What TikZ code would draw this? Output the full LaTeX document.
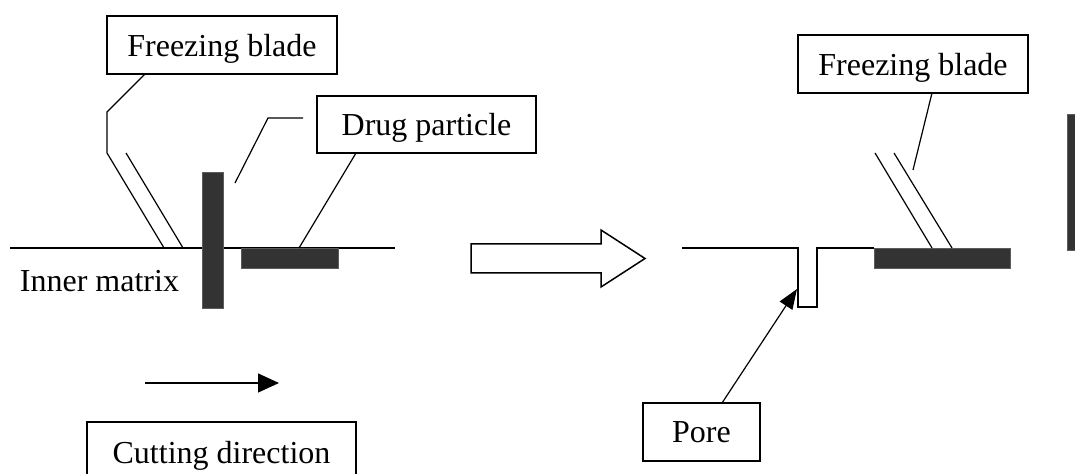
\documentclass[tikz,border=0pt]{standalone}
\usepackage{fontspec}
\setmainfont{Liberation Serif}
\usetikzlibrary{arrows.meta}
\definecolor{bar}{HTML}{333333}
\begin{document}
\begin{tikzpicture}[x=0.5pt,y=-0.5pt,
  lbl/.style={draw, line width=0.75pt, inner sep=0pt, text depth=0pt,
    font=\fontsize{16}{19}\selectfont},
  plain/.style={inner sep=0pt, text depth=0pt, font=\fontsize{16}{19}\selectfont},
  thinline/.style={line width=0.6pt},
  darkbar/.style={fill=bar, draw=bar!80, line width=0.4pt}]
\useasboundingbox (0,0) rectangle (1075,474);
\clip (0,0) rectangle (1075,474);

% ---------- left: labels ----------
\node[lbl, minimum width=115pt, minimum height=29pt] (fb1) at (222,45) {Freezing blade};
\node[lbl, minimum width=109.5pt, minimum height=28.5pt] (dp) at (426.5,124.5) {Drug particle};
\node[plain] (im) at (99.5,280.5) {Inner matrix};
\node[lbl, minimum width=134.5pt, minimum height=30pt] (cd) at (221.5,452) {Cutting direction};

% surface
\draw[thinline] (10,248) -- (395,248);

% blade (left)
\coordinate (fb1a) at (145,74);
\coordinate (fb1b) at (107,112);
\coordinate (bl1t) at (107,153);
\coordinate (bl1b) at (164,248);
\coordinate (bl2t) at (126,153);
\coordinate (bl2b) at (183,248);
\draw[thinline] (fb1a) -- (fb1b) -- (bl1t) -- (bl1b);
\draw[thinline] (bl2t) -- (bl2b);

% dark bars (left)
\draw[darkbar] (202,172) rectangle (223,308);
\draw[darkbar] (241,248) rectangle (338,268);

% drug particle leaders
\coordinate (dpa) at (303,118);
\coordinate (dpb) at (268,118);
\coordinate (dpc) at (235,183);
\coordinate (dpd) at (356,153);
\coordinate (dpe) at (299,248);
\draw[thinline] (dpa) -- (dpb) -- (dpc);
\draw[thinline] (dpd) -- (dpe);

% cutting direction arrow
\coordinate (ca) at (145,383);
\coordinate (cb) at (279,383);
\draw[thinline, -{Triangle[length=10.5pt,width=9.5pt]}] (ca) -- (cb);

% ---------- hollow arrow ----------
\draw[line width=0.75pt] (471,244) -- (601,244) -- (601,230) -- (645,258.5)
  -- (601,287) -- (601,273) -- (471,273) -- cycle;

% ---------- right ----------
\node[lbl, minimum width=115pt, minimum height=29pt] (fb2) at (913,64) {Freezing blade};
\node[lbl, minimum width=58.5pt, minimum height=29pt] (pore) at (701.5,432) {Pore};

% surface with pore
\draw[line width=0.75pt] (682,248) -- (798,248) -- (798,307) -- (817,307) -- (817,248) -- (874,248);

% dark bar right
\draw[darkbar] (874,248) rectangle (1010,268);
\draw[darkbar] (1067,114) rectangle (1085,250);

% blade right
\draw[thinline] (875,153) -- (932,248);
\draw[thinline] (894,153) -- (952,248);
\coordinate (fb2a) at (932,93);
\coordinate (fb2b) at (913,170);
\draw[thinline] (fb2a) -- (fb2b);

% pore arrow
\coordinate (pa) at (722,403);
\coordinate (pt) at (797,289);
\draw[thinline, -{Triangle[length=10pt,width=7.5pt]}] (pa) -- (pt);
\end{tikzpicture}
\end{document}
